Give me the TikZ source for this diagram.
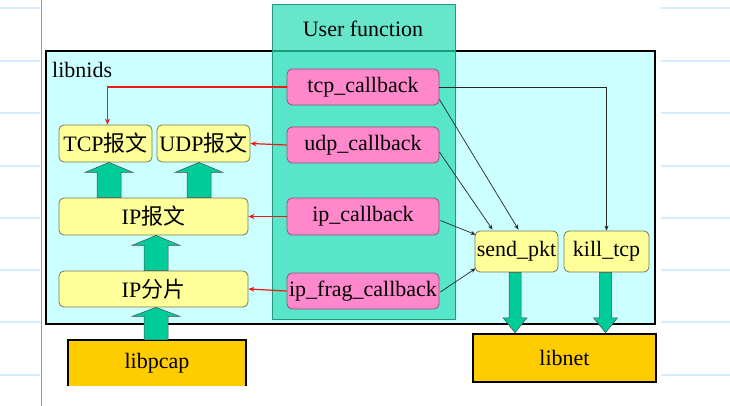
\documentclass[tikz,border=0pt]{standalone}
\usepackage{fontspec}
\setmainfont{Liberation Serif}
\newfontfamily\cjk{Noto Sans CJK SC}
\usetikzlibrary{calc,arrows.meta}
\definecolor{cyanbg}{RGB}{204,255,255}
\definecolor{ufill}{RGB}{40,220,180}
\definecolor{uborder}{RGB}{40,150,120}
\definecolor{pinkf}{RGB}{255,136,204}
\definecolor{pinkd}{RGB}{150,80,120}
\definecolor{yelf}{RGB}{255,255,153}
\definecolor{yeld}{RGB}{120,120,90}
\definecolor{greenarr}{RGB}{0,204,153}
\definecolor{goldf}{RGB}{255,204,0}
\definecolor{nbline}{RGB}{215,236,252}
\definecolor{marg}{RGB}{255,110,110}
\definecolor{redarr}{RGB}{235,25,25}
\tikzset{
  txt/.style={font=\fontsize{22}{26}\selectfont, inner sep=0pt},
  ybox/.style={txt, draw=yeld, line width=0.8pt, fill=yelf, rounded corners=5pt},
  pbox/.style={txt, draw=pinkd, line width=0.8pt, fill=pinkf, rounded corners=5pt, minimum width=152pt, minimum height=36pt},
  gbox/.style={txt, fill=goldf},
  fatarrow/.style={fill=greenarr, draw=black!70, line width=0.5pt},
  redline/.style={draw=redarr, line width=1.2pt, -{Stealth[length=6pt,width=5pt]}},
  blkline/.style={draw=black!85, line width=0.7pt, -{Stealth[length=5pt,width=4pt]}},
  nbl/.style={draw=nbline, line width=1.5pt}
}
\newcommand\fatup[6]{%
  \draw[fatarrow] let \p1=(#2), \p2=(#3) in
    (#1pt-#4pt,\y1) -- (#1pt-#4pt,\y2-#6pt) -- (#1pt-#5pt,\y2-#6pt) -- (#1pt,\y2)
    -- (#1pt+#5pt,\y2-#6pt) -- (#1pt+#4pt,\y2-#6pt) -- (#1pt+#4pt,\y1) -- cycle;}
\newcommand\fatdown[6]{%
  \draw[fatarrow] let \p1=(#2), \p2=(#3) in
    (#1pt-#4pt,\y1) -- (#1pt-#4pt,\y2+#6pt) -- (#1pt-#5pt,\y2+#6pt) -- (#1pt,\y2)
    -- (#1pt+#5pt,\y2+#6pt) -- (#1pt+#4pt,\y2+#6pt) -- (#1pt+#4pt,\y1) -- cycle;}
\begin{document}
\begin{tikzpicture}[x=1pt,y=-1pt]
\useasboundingbox[fill=white] (0,0) rectangle (730,406);
% notebook background
\foreach \yy in {8,61,113,166,218,270,322,375} {
  \draw[nbl] (0,\yy) -- (40,\yy);
  \draw[nbl] (661,\yy) -- (730,\yy);
}
\draw[draw=marg, line width=1pt] (41,0) -- (41,406);
% containers
\draw[fill=cyanbg, draw=black, line width=2.5pt] (46,51) rectangle (655,324);
\draw[fill=ufill, fill opacity=0.7, draw=uborder, line width=0.8pt] (272,4) rectangle (455,319);
\node[txt] (uftitle) at (363,29) {User function};
\node[txt, anchor=west] (nidslbl) at (52,70) {libnids};
% user callbacks
\node[pbox] (tcpcb) at (363,87) {tcp\_callback};
\node[pbox] (udpcb) at (363,145) {udp\_callback};
\node[pbox, minimum height=37pt] (ipcb) at (363,216.5) {ip\_callback};
\node[pbox] (fragcb) at (363,291) {ip\_frag\_callback};
% libnids internals
\node[ybox, minimum width=93pt, minimum height=37pt] (tcp) at (105.5,143.5) {TCP{\cjk 报文}};
\node[ybox, minimum width=93pt, minimum height=37pt] (udp) at (203.5,143.5) {UDP{\cjk 报文}};
\node[ybox, minimum width=189pt, minimum height=37pt] (ipr) at (153.5,216.5) {IP{\cjk 报文}};
\node[ybox, minimum width=189pt, minimum height=36pt] (ipf) at (153.5,289) {IP{\cjk 分片}};
\node[ybox, minimum width=83pt, minimum height=41pt] (send) at (516.5,251.5) {send\_pkt};
\node[ybox, minimum width=85pt, minimum height=41pt] (kill) at (606.5,251.5) {kill\_tcp};
% external libraries
\node[gbox, minimum width=178pt, minimum height=46pt] (pcap) at (157,363) {libpcap};
\draw[line width=2.5pt] (pcap.south west) |- (pcap.north east) -- (pcap.south east);
\node[gbox, draw=black, line width=2.5pt, minimum width=183pt, minimum height=48pt] (net) at (564.5,358) {libnet};
% red connectors
\draw[redline] (tcpcb.west) -| ($(tcp.north)+(2,0)$);
\draw[redline] (udpcb.west) -- (udp.east);
\draw[redline] (ipcb.west) -- (ipr.east);
\draw[redline] (fragcb.west) -- (ipf.east);
% black connectors
\draw[blkline, line width=0.9pt] (tcpcb.east) -| (kill.north);
\draw[blkline] ($(tcpcb.south east)+(0,-6)$) -- ($(send.north)+(2,-1)$);
\draw[blkline] ($(udpcb.east)+(0,7)$) -- ($(send.north)+(-24,-1)$);
\draw[blkline] ($(ipcb.east)+(1,4)$) -- ($(send.north west)+(1,4)$);
\draw[blkline] ($(fragcb.east)+(1,1)$) -- ($(send.south west)+(1,-4)$);
% fat arrows
\fatup{109}{ipr.north}{tcp.south}{12}{24}{10}
\fatup{199}{ipr.north}{udp.south}{12}{24}{10}
\fatup{156}{ipf.north}{ipr.south}{12}{24}{10}
\fatup{156}{pcap.north}{ipf.south}{12}{24}{9}
\fatdown{515}{send.south}{net.north}{6}{12}{15}
\fatdown{605.5}{kill.south}{net.north}{6}{12}{15}
\end{tikzpicture}
\end{document}
